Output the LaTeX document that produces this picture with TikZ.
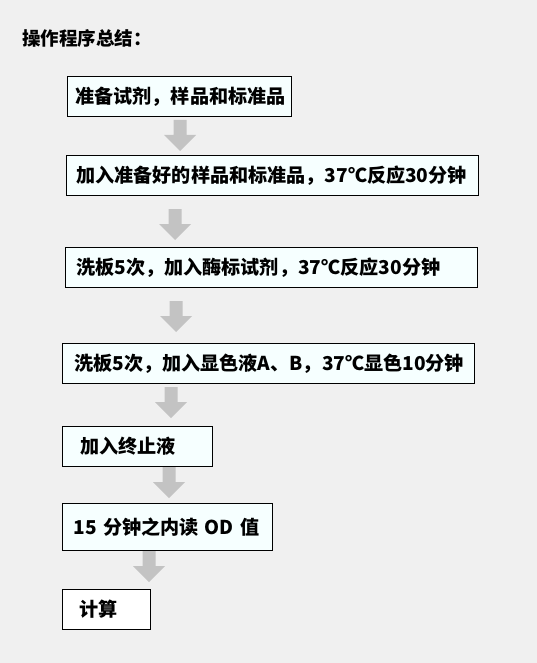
\documentclass[tikz,border=0pt]{standalone}
\usepackage{fontspec}
\setmainfont{Noto Sans CJK SC}
\newfontfamily\cjk{Noto Sans CJK SC}
\begin{document}
\begin{tikzpicture}[x=1pt,y=-1pt,
  box/.style={draw=black,line width=0.9pt,fill=boxfill,anchor=north west,
    minimum height=40pt,inner ysep=0pt,align=left,
    font=\cjk\bfseries\fontsize{19.1}{21}\selectfont},
  arr/.style={fill=arrgray,draw=none}]
\definecolor{bg}{HTML}{F0F0F0}
\definecolor{boxfill}{HTML}{F6FFFF}
\definecolor{arrgray}{HTML}{C3C3C3}
\fill[bg] (0,0) rectangle (537,663);
\useasboundingbox (0,0) rectangle (537,663);
\node[anchor=west,inner sep=0pt,font=\cjk\bfseries\fontsize{18.5}{20}\selectfont] (title) at (22,38) {操作程序总结：};
% boxes: inner xsep = left inset, text width = W - 2*inset
\node[box,inner xsep=8pt,text width=208pt] (b1) at (67,76) {准备试剂，样品和标准品};
\node[box,inner xsep=10pt,text width=392pt] (b2) at (66,155) {加入准备好的样品和标准品，37℃反应30分钟};
\node[box,inner xsep=11pt,text width=390pt] (b3) at (65,247) {洗板5次，加入酶标试剂，37℃反应30分钟};
\node[box,inner xsep=12pt,text width=388pt] (b4) at (62,343) {洗板5次，加入显色液A、B，37℃显色10分钟};
\node[box,inner xsep=18pt,text width=114pt] (b5) at (62,426) {加入终止液};
\node[box,inner xsep=11pt,text width=188pt,minimum height=47pt] (b6) at (62,503) {15 分钟之内读 OD 值};
\node[box,inner xsep=17pt,text width=54pt,fill=white] (b7) at (62,589) {计算};
% block arrows
\def\blockarrow#1#2{\fill[arr] (#1,#2) ++(-6.5,0) -- ++(13,0) -- ++(0,15) -- ++(9.5,0) -- ++(-16,16) -- ++(-16,-16) -- ++(9.5,0) -- cycle;}
\blockarrow{180}{120}
\blockarrow{175}{209}
\blockarrow{176}{301}
\blockarrow{171}{387}
\blockarrow{169}{467}
\blockarrow{149}{551}
\end{tikzpicture}
\end{document}
